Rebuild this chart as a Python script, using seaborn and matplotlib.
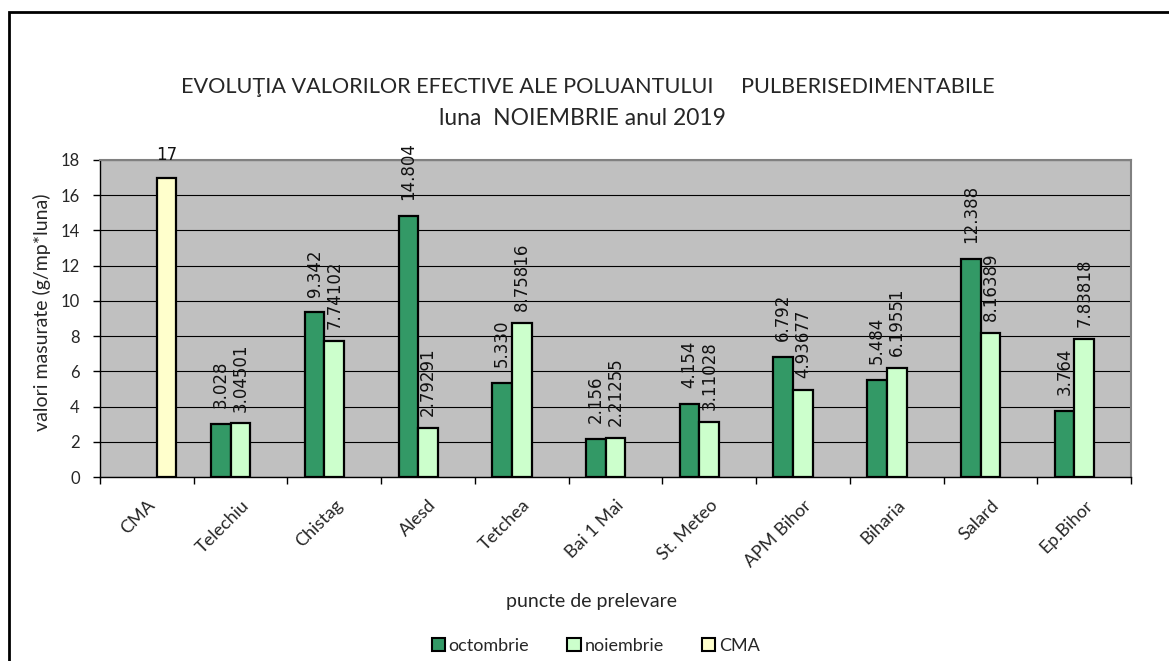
import matplotlib
matplotlib.use("Agg")
import matplotlib.pyplot as plt
import matplotlib.patches as mpatches
import seaborn as sns
import pandas as pd
import numpy as np

categories = ["CMA", "Telechiu", "Chistag", "Alesd", "Tetchea", "Bai 1 Mai",
              "St. Meteo", "APM Bihor", "Biharia", "Salard", "Ep.Bihor"]
octombrie = [np.nan, 3.028, 9.342, 14.804, 5.330, 2.156, 4.154, 6.792, 5.484, 12.388, 3.764]
noiembrie = [np.nan, 3.04501, 7.74102, 2.79291, 8.75816, 2.21255, 3.11028, 4.93677, 6.19551, 8.16389, 7.83818]
cma = [17, np.nan, np.nan, np.nan, np.nan, np.nan, np.nan, np.nan, np.nan, np.nan, np.nan]
oct_labels = ["", "3.028", "9.342", "14.804", "5.330", "2.156", "4.154", "6.792", "5.484", "12.388", "3.764"]
noi_labels = ["", "3.04501", "7.74102", "2.79291", "8.75816", "2.21255", "3.11028", "4.93677", "6.19551", "8.16389", "7.83818"]
cma_labels = ["17", "", "", "", "", "", "", "", "", "", ""]
series_names = ["octombrie", "noiembrie", "CMA"]
colors = ["#339966", "#CCFFCC", "#FFFFCC"]

title_line1 = "EVOLUŢIA VALORILOR EFECTIVE ALE POLUANTULUI     PULBERISEDIMENTABILE"
title_line2 = "luna  NOIEMBRIE anul 2019"
x_title = "puncte de prelevare"
y_title = "valori masurate (g/mp*luna)"

rows = []
for name, vals in zip(series_names, [octombrie, noiembrie, cma]):
    for c, v in zip(categories, vals):
        rows.append({"punct": c, "serie": name, "val": v})
df = pd.DataFrame(rows)

sns.set_theme(style="white")
plt.rcParams['font.family'] = ['Lato', 'DejaVu Sans']

W, H = 1169, 661
fig = plt.figure(figsize=(W / 100, H / 100), dpi=100)
ax = fig.add_axes([100 / W, 1 - 477 / H, 1031 / W, 317 / H])
ax.set_facecolor("#C0C0C0")

sns.barplot(data=df, x="punct", y="val", hue="serie", order=categories,
            hue_order=series_names, palette=colors, width=0.63,
            edgecolor="black", linewidth=1.6, ax=ax, legend=False, saturation=1)

ax.set_ylim(0, 18)
ax.set_xlim(-0.5, len(categories) - 0.5)
ax.set_yticks(range(0, 19, 2))
ax.yaxis.grid(True, color="black", linewidth=0.8)
ax.set_axisbelow(True)

# data labels
all_vals = [octombrie, noiembrie, cma]
all_labs = [oct_labels, noi_labels, cma_labels]
pads = [11.5, 8.5, 9.5]
rots = [90, 90, 0]
for i, cont in enumerate(ax.containers[:3]):
    vals, labs = all_vals[i], all_labs[i]
    if len(cont) != len(labs):
        labs = [l for l, v in zip(labs, vals) if not np.isnan(v)]
    ax.bar_label(cont, labels=labs, padding=pads[i], rotation=rots[i], fontsize=12,
                 family="DejaVu Sans", color="#111111")

for sp in ["top", "right"]:
    ax.spines[sp].set_color("#808080")
    ax.spines[sp].set_linewidth(1.5)
for sp in ["left", "bottom"]:
    ax.spines[sp].set_color("black")
    ax.spines[sp].set_linewidth(1.0)

ax.set_xticks(range(len(categories)))
ax.set_xticklabels(categories, rotation=45, ha="right", va="top",
                   rotation_mode="anchor", fontsize=13)
ax.set_xticks(np.arange(-0.5, len(categories), 1), minor=True)
ax.tick_params(axis="x", which="major", length=0, pad=14.5)
ax.tick_params(axis="x", which="minor", length=5, width=1, color="black",
               direction="out", bottom=True)
ax.tick_params(axis="y", length=5, width=1, color="black", direction="out",
               left=True, labelsize=12, pad=9.5)

ax.set_xlabel(x_title, fontsize=14)
ax.xaxis.set_label_coords((591 - 100) / 1031, (477 - 602) / 317)
ax.xaxis.label.set_va("center")
ax.set_ylabel(y_title, fontsize=14)
ax.yaxis.set_label_coords((42 - 100) / 1031, (477 - 312) / 317)
ax.yaxis.label.set_va("center")

fig.text(588 / W, 1 - 93 / H, title_line1, ha="center", va="baseline", fontsize=15.6)
fig.text(582 / W, 1 - 125 / H, title_line2, ha="center", va="baseline", fontsize=16.5)

handles = [mpatches.Patch(facecolor=c, edgecolor="black", linewidth=1.5, label=n)
           for c, n in zip(colors, series_names)]
fig.legend(handles=handles, loc="center", bbox_to_anchor=(595.5 / W, 1 - 645.7 / H), ncol=3,
           frameon=False, fontsize=13, handlelength=0.75, handleheight=0.75,
           handletextpad=0.2, columnspacing=2.1, borderpad=0, borderaxespad=0)

frame = mpatches.Rectangle((9 / W, -0.2), 1.2, 1 - 12 / H + 0.2, transform=fig.transFigure,
                           fill=False, edgecolor="black", linewidth=2, clip_on=False)
fig.patches.append(frame)

fig.savefig("out.png", dpi=100)
